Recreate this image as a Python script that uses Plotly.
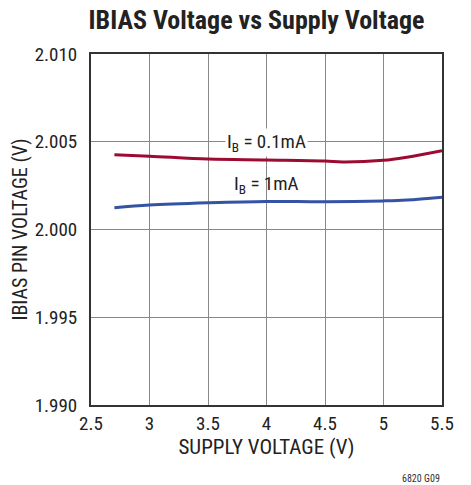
import plotly.graph_objects as go

supply_v = [2.7, 3.0, 3.5, 4.0, 4.5, 4.65, 5.0, 5.2, 5.5]
ib_01ma = [2.00426, 2.00418, 2.00401, 2.00396, 2.00390, 2.00384, 2.00394, 2.00412, 2.00449]
supply_v2 = [2.7, 3.0, 3.5, 4.0, 4.5, 5.0, 5.2, 5.5]
ib_1ma = [2.00124, 2.00139, 2.00152, 2.00160, 2.00158, 2.00163, 2.00168, 2.00184]

x_ticks = [2.5, 3, 3.5, 4, 4.5, 5, 5.5]
x_tick_labels = ["2.5", "3", "3.5", "4", "4.5", "5", "5.5"]
y_ticks = [1.990, 1.995, 2.000, 2.005, 2.010]
y_tick_labels = ["1.990", "1.995", "2.000", "2.005", "2.010"]

FONT = "Liberation Sans Narrow, Roboto Condensed, Arial Narrow, Liberation Sans, sans-serif"

fig = go.Figure()
fig.add_trace(go.Scatter(x=supply_v, y=ib_01ma, mode="lines",
                         line=dict(color="#9b0b32", width=3, shape="spline"), showlegend=False))
fig.add_trace(go.Scatter(x=supply_v2, y=ib_1ma, mode="lines",
                         line=dict(color="#3553a5", width=3, shape="spline"), showlegend=False))

fig.add_annotation(x=4.0, y=2.005, text="I<sub>B</sub> = 0.1mA", showarrow=False,
                   font=dict(family=FONT, size=19, color="#222"), bgcolor="white", yshift=-1)
fig.add_annotation(x=4.0, y=2.00258, text="I<sub>B</sub> = 1mA", showarrow=False,
                   font=dict(family=FONT, size=19, color="#222"))

fig.add_annotation(x=1, y=-0.208, xref="paper", yref="paper", xanchor="right", yanchor="middle",
                   text="6820 G09", showarrow=False, font=dict(family=FONT, size=10, color="#333"))

fig.update_layout(
    width=463, height=477,
    margin=dict(l=83, r=29, t=46, b=80, autoexpand=False),
    paper_bgcolor="white", plot_bgcolor="white",
    title=dict(text="<b>IBIAS Voltage vs Supply Voltage</b>", xref="paper", x=0.4715,
               xanchor="center", y=0.975, yanchor="middle",
               font=dict(family=FONT, size=26, color="#222")),
    font=dict(family=FONT, size=19, color="#222"),
)
fig.update_xaxes(range=[2.5, 5.5], tickvals=x_ticks, ticktext=x_tick_labels,
                 showgrid=True, gridcolor="#888", gridwidth=1,
                 showline=True, linecolor="#333", linewidth=2, mirror=True,
                 ticks="", ticklen=0, zeroline=False, automargin=False,
                 title=dict(text="SUPPLY VOLTAGE (V)", standoff=6, font=dict(size=21)),
                 tickfont=dict(size=19))
fig.update_yaxes(range=[1.990, 2.010], tickvals=y_ticks, ticktext=y_tick_labels,
                 showgrid=True, gridcolor="#888", gridwidth=1,
                 showline=True, linecolor="#333", linewidth=2, mirror=True,
                 ticks="", ticklen=0, ticklabelstandoff=8, zeroline=False, automargin=False,
                 title=dict(text="IBIAS PIN VOLTAGE (V)", standoff=4, font=dict(size=20)),
                 tickfont=dict(size=19))

fig.write_html("out.html")
